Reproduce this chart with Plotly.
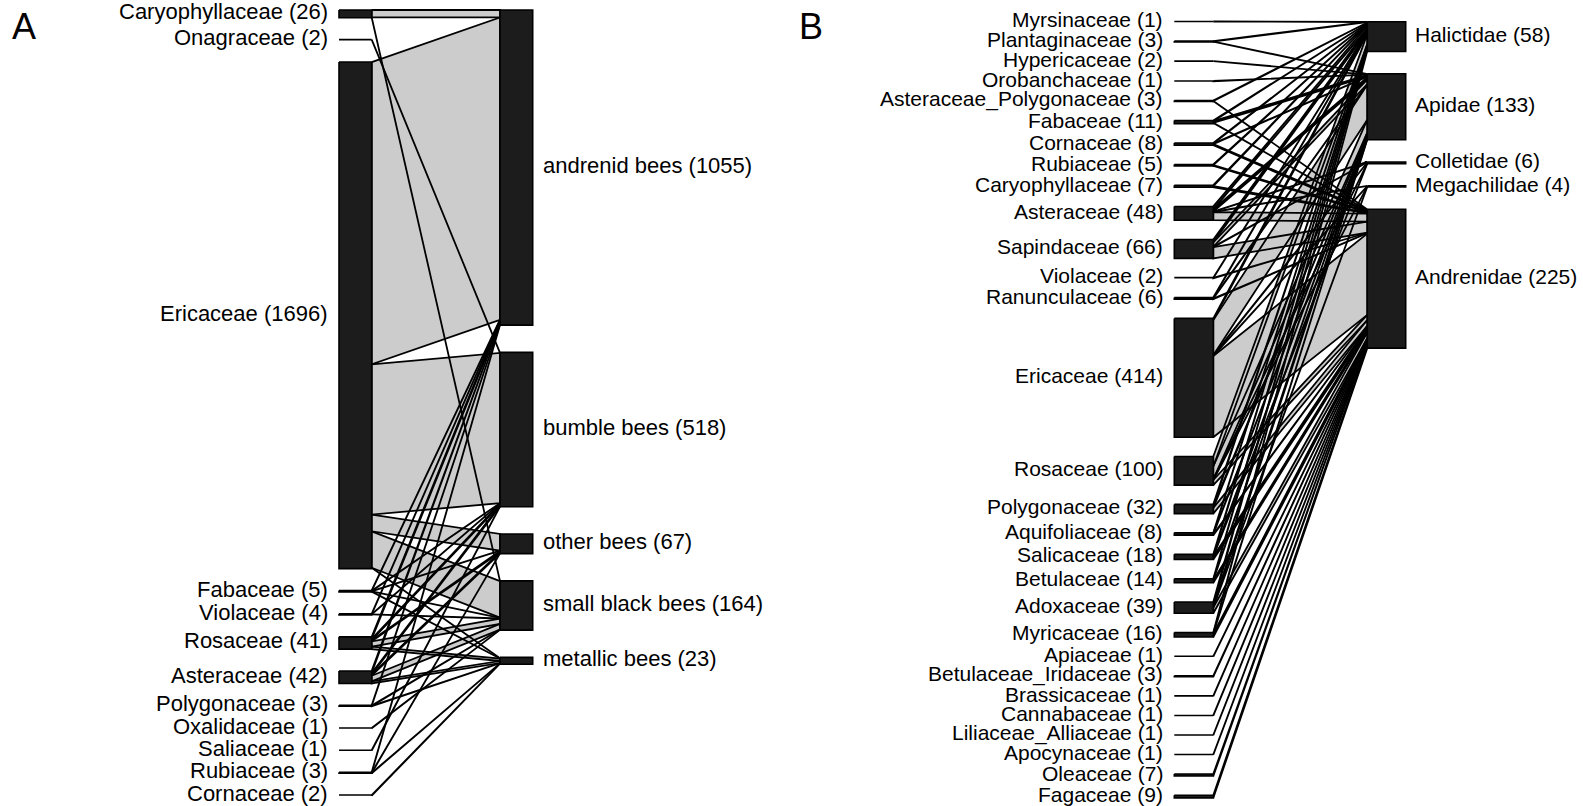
import plotly.graph_objects as go

# ---------------- Panel A data ----------------
a_plants = ["Caryophyllaceae", "Onagraceae", "Ericaceae", "Fabaceae", "Violaceae",
            "Rosaceae", "Asteraceae", "Polygonaceae", "Oxalidaceae", "Saliaceae",
            "Rubiaceae", "Cornaceae"]
a_plant_counts = [26, 2, 1696, 5, 4, 41, 42, 3, 1, 1, 3, 2]
a_bees = ["andrenid bees", "bumble bees", "other bees", "small black bees", "metallic bees"]
a_bee_counts = [1055, 518, 67, 164, 23]
# interaction matrix (rows: plants, cols: bee groups)
a_web = [
    [25, 0, 0, 1, 0],
    [0, 2, 0, 0, 0],
    [1012, 503, 56, 122, 3],
    [1, 1, 1, 1, 1],
    [1, 1, 0, 2, 0],
    [7, 4, 4, 18, 8],
    [7, 5, 4, 19, 7],
    [1, 0, 0, 1, 1],
    [0, 0, 0, 1, 0],
    [0, 1, 0, 0, 0],
    [1, 0, 1, 0, 1],
    [0, 0, 0, 0, 2],
]

# ---------------- Panel B data ----------------
b_plants = ["Myrsinaceae", "Plantaginaceae", "Hypericaceae", "Orobanchaceae",
            "Asteraceae_Polygonaceae", "Fabaceae", "Cornaceae", "Rubiaceae",
            "Caryophyllaceae", "Asteraceae", "Sapindaceae", "Violaceae",
            "Ranunculaceae", "Ericaceae", "Rosaceae", "Polygonaceae",
            "Aquifoliaceae", "Salicaceae", "Betulaceae", "Adoxaceae", "Myricaceae",
            "Apiaceae", "Betulaceae_Iridaceae", "Brassicaceae", "Cannabaceae",
            "Liliaceae_Alliaceae", "Apocynaceae", "Oleaceae", "Fagaceae"]
b_plant_counts = [1, 3, 2, 1, 3, 11, 8, 5, 7, 48, 66, 2, 6, 414, 100, 32, 8, 18,
                  14, 39, 16, 1, 3, 1, 1, 1, 1, 7, 9]
b_bees = ["Halictidae", "Apidae", "Colletidae", "Megachilidae", "Andrenidae"]
b_bee_counts = [58, 133, 6, 4, 225]
b_web = [
    [1, 0, 0, 0, 0],
    [2, 1, 0, 0, 0],
    [0, 2, 0, 0, 0],
    [0, 1, 0, 0, 0],
    [2, 0, 0, 0, 1],
    [2, 6, 0, 0, 3],
    [2, 2, 0, 0, 4],
    [2, 0, 0, 0, 3],
    [3, 0, 0, 0, 4],
    [10, 8, 1, 1, 28],
    [10, 16, 1, 0, 39],
    [1, 0, 0, 0, 1],
    [2, 2, 0, 0, 2],
    [6, 122, 2, 1, 283],
    [35, 45, 1, 1, 18],
    [6, 6, 0, 0, 20],
    [2, 3, 0, 0, 3],
    [4, 2, 1, 0, 11],
    [3, 2, 0, 0, 9],
    [8, 10, 0, 1, 20],
    [3, 2, 0, 0, 11],
    [0, 0, 0, 0, 1],
    [0, 0, 0, 0, 3],
    [0, 0, 0, 0, 1],
    [0, 0, 0, 0, 1],
    [0, 0, 0, 0, 1],
    [0, 0, 0, 0, 1],
    [0, 0, 0, 0, 7],
    [0, 0, 0, 0, 9],
]

W, H = 1583, 806
FONT = "Liberation Sans, Arial, Helvetica, sans-serif"
fig = go.Figure()
annotations = []


def draw_web(plants, plant_counts, bees, bee_counts, web, xl0, xl1, xh0, xh1,
             yl0, gapl, yh0, gaph, scale, fsize, lab_off_l, lab_off_r):
    nr, nc = len(web), len(web[0])
    row_sums = [sum(r) for r in web]
    col_sums = [sum(web[i][j] for i in range(nr)) for j in range(nc)]
    ly, y = [], yl0
    for v in row_sums:
        ly.append(y)
        y += v * scale + gapl
    hy, y = [], yh0
    for v in col_sums:
        hy.append(y)
        y += v * scale + gaph
    # link ends: stacked by higher order within lower boxes, by lower order within higher boxes
    lstart = [[0.0] * nc for _ in range(nr)]
    for i in range(nr):
        acc = 0.0
        for j in range(nc):
            lstart[i][j] = ly[i] + acc
            acc += web[i][j] * scale
    hstart = [[0.0] * nc for _ in range(nr)]
    for j in range(nc):
        acc = 0.0
        for i in range(nr):
            hstart[i][j] = hy[j] + acc
            acc += web[i][j] * scale
    lx, lyy = [], []
    for i in range(nr):
        for j in range(nc):
            v = web[i][j]
            if v <= 0:
                continue
            h = v * scale
            a0, b0 = lstart[i][j], hstart[i][j]
            lx += [xl1, xh0, xh0, xl1, xl1, None]
            lyy += [a0, b0, b0 + h, a0 + h, a0, None]
    fig.add_trace(go.Scatter(x=lx, y=lyy, mode="lines", fill="toself",
                             fillcolor="#cccccc", line=dict(color="black", width=1.8),
                             hoverinfo="skip", showlegend=False))
    bx, by = [], []
    for i in range(nr):
        y0, y1 = ly[i], ly[i] + row_sums[i] * scale
        bx += [xl0, xl1, xl1, xl0, xl0, None]
        by += [y0, y0, y1, y1, y0, None]
    for j in range(nc):
        y0, y1 = hy[j], hy[j] + col_sums[j] * scale
        bx += [xh0, xh1, xh1, xh0, xh0, None]
        by += [y0, y0, y1, y1, y0, None]
    fig.add_trace(go.Scatter(x=bx, y=by, mode="lines", fill="toself",
                             fillcolor="#1c1c1c", line=dict(color="black", width=1.6),
                             hoverinfo="skip", showlegend=False))
    for i in range(nr):
        yc = ly[i] + row_sums[i] * scale / 2
        annotations.append(dict(x=xl0 - lab_off_l, y=yc, xref="x", yref="y", yshift=2,
                                text=f"{plants[i]} ({plant_counts[i]})", showarrow=False,
                                xanchor="right", yanchor="middle",
                                font=dict(family=FONT, size=fsize, color="black")))
    for j in range(nc):
        yc = hy[j] + col_sums[j] * scale / 2
        annotations.append(dict(x=xh1 + lab_off_r, y=yc, xref="x", yref="y", yshift=2,
                                text=f"{bees[j]} ({bee_counts[j]})", showarrow=False,
                                xanchor="left", yanchor="middle",
                                font=dict(family=FONT, size=fsize, color="black")))


draw_web(a_plants, a_plant_counts, a_bees, a_bee_counts, a_web,
         339, 371.7, 500, 532.7, 10, 21.84, 10, 27.2, 0.2987, 22, 9, 8)
draw_web(b_plants, b_plant_counts, b_bees, b_bee_counts, b_web,
         1174.3, 1213.3, 1367.3, 1405.7, 21.5, 19.24, 21.7, 22.2, 0.287, 21, 9, 7)

annotations.append(dict(x=10, y=26, xref="x", yref="y", text="A", showarrow=False,
                        xanchor="left", yanchor="middle",
                        font=dict(family=FONT, size=36, color="black")))
annotations.append(dict(x=797, y=26, xref="x", yref="y", text="B", showarrow=False,
                        xanchor="left", yanchor="middle",
                        font=dict(family=FONT, size=36, color="black")))

fig.update_layout(
    width=W, height=H, margin=dict(l=0, r=0, t=0, b=0),
    paper_bgcolor="white", plot_bgcolor="white",
    xaxis=dict(range=[0, W], visible=False, fixedrange=True),
    yaxis=dict(range=[H, 0], visible=False, fixedrange=True),
    annotations=annotations,
)
fig.write_html("out.html")
